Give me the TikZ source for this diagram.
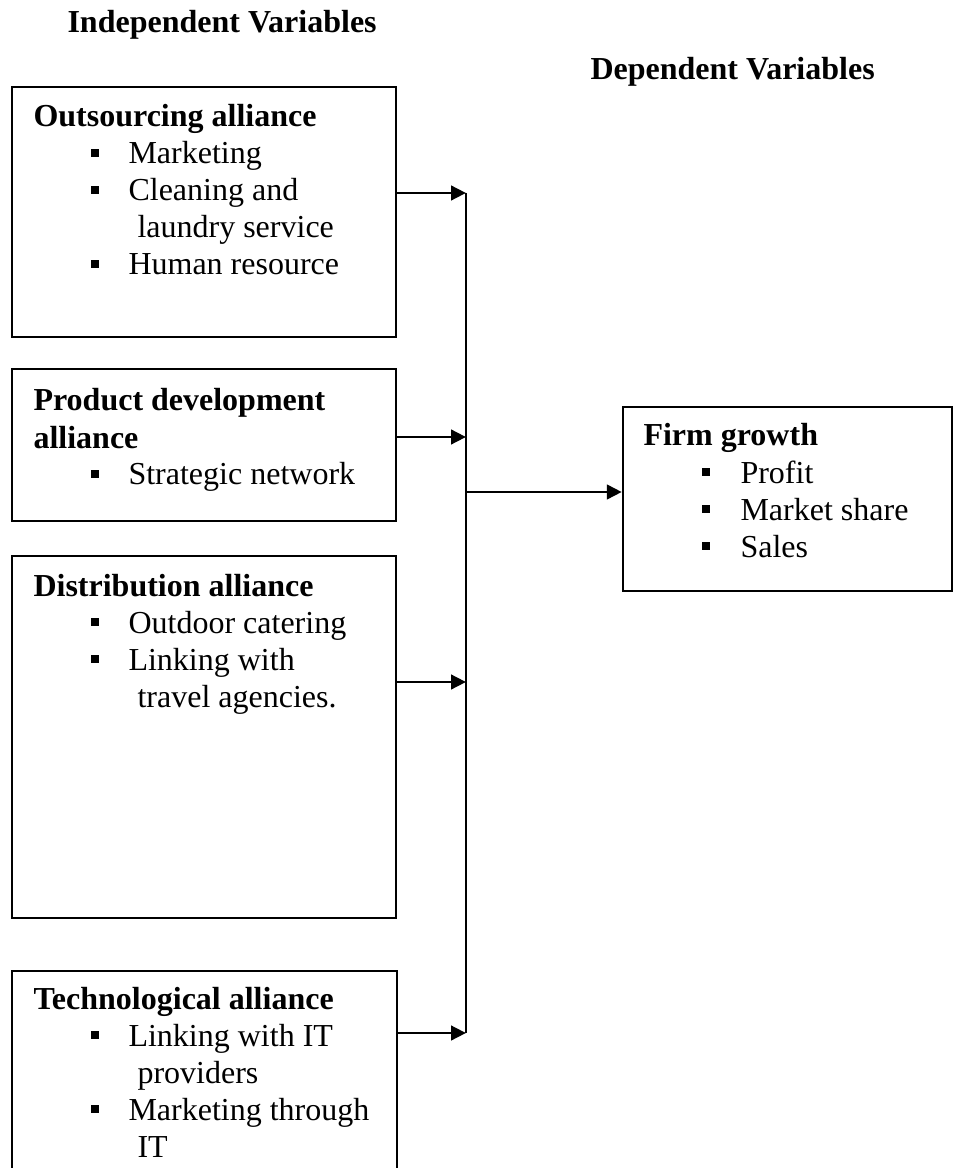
\documentclass[tikz,border=0pt]{standalone}
\usepackage{fontspec}
\setmainfont{Liberation Serif}
\usetikzlibrary{arrows.meta,fit}
\begin{document}
\begin{tikzpicture}[x=0.375pt,y=-0.375pt,
  box/.style={draw, line width=0.9pt, inner sep=0pt, rectangle},
  conn/.style={line width=1.1pt},
  arr/.style={line width=1.1pt, -{Triangle[length=5.6pt,width=5.4pt]}},
  ttl/.style={anchor=base west, inner sep=0pt, font=\fontsize{12}{14}\selectfont\bfseries},
  itm/.style={anchor=base west, inner sep=0pt, font=\fontsize{12}{14}\selectfont},
  sq/.style={fill=black, draw=none, inner sep=0pt, minimum size=3pt, rectangle}]
\useasboundingbox (0,0) rectangle (956,1168);
\clip (0,0) rectangle (956,1168);
% headers
\node[ttl] (hind) at (67,33) {Independent Variables};
\node[ttl] (hdep) at (590,80) {Dependent Variables};
% boxes
\node[box, fit={(12,87)(396,337)}] (b1) {};
\node[box, fit={(12,369)(396,521)}] (b2) {};
\node[box, fit={(12,556)(396,918)}] (b3) {};
\node[box, fit={(12,971)(397,1200)}] (b4) {};
\node[box, fit={(623,407)(952,591)}] (firm) {};
% box 1 text
\node[ttl] (t1) at (33,127) {Outsourcing alliance};
\node[sq] (s11) at (95,153) {};
\node[itm] (i11) at (128,164) {Marketing};
\node[sq] (s12) at (95,190) {};
\node[itm] (i12) at (128,201) {Cleaning and};
\node[itm] (i12b) at (137,238) {laundry service};
\node[sq] (s13) at (95,264) {};
\node[itm] (i13) at (128,275) {Human resource};
% box 2 text
\node[ttl] (t2) at (33,411) {Product development};
\node[ttl] (t2b) at (33,448) {alliance};
\node[sq] (s21) at (95,474) {};
\node[itm] (i21) at (128,485) {Strategic network};
% box 3 text
\node[ttl] (t3) at (33,596) {Distribution alliance};
\node[sq] (s31) at (95,622) {};
\node[itm] (i31) at (128,633) {Outdoor catering};
\node[sq] (s32) at (95,659) {};
\node[itm] (i32) at (128,670) {Linking with};
\node[itm] (i32b) at (137,707) {travel agencies.};
% box 4 text
\node[ttl] (t4) at (33,1009) {Technological alliance};
\node[sq] (s41) at (95,1035) {};
\node[itm] (i41) at (128,1046) {Linking with IT};
\node[itm] (i41b) at (137,1083) {providers};
\node[sq] (s42) at (95,1109) {};
\node[itm] (i42) at (128,1120) {Marketing through};
\node[itm] (i42b) at (137,1157) {IT};
% firm text
\node[ttl] (t5) at (643,446) {Firm growth};
\node[sq] (s51) at (706,472) {};
\node[itm] (i51) at (740,483) {Profit};
\node[sq] (s52) at (706,509) {};
\node[itm] (i52) at (740,520) {Market share};
\node[sq] (s53) at (706,546) {};
\node[itm] (i53) at (740,557) {Sales};
% connectors
\coordinate (bus1) at (466,193);
\coordinate (bus2) at (466,437);
\coordinate (busm) at (466,492);
\coordinate (bus3) at (466,682);
\coordinate (bus4) at (466,1033);
\draw[conn] (bus1) -- (bus4);
\draw[arr] (b1.east |- bus1) -- (bus1);
\draw[arr] (b2.east |- bus2) -- (bus2);
\draw[arr] (b3.east |- bus3) -- (bus3);
\draw[arr] (b4.east |- bus4) -- (bus4);
\draw[arr] (busm) -- (firm.west |- busm);
\end{tikzpicture}
\end{document}
